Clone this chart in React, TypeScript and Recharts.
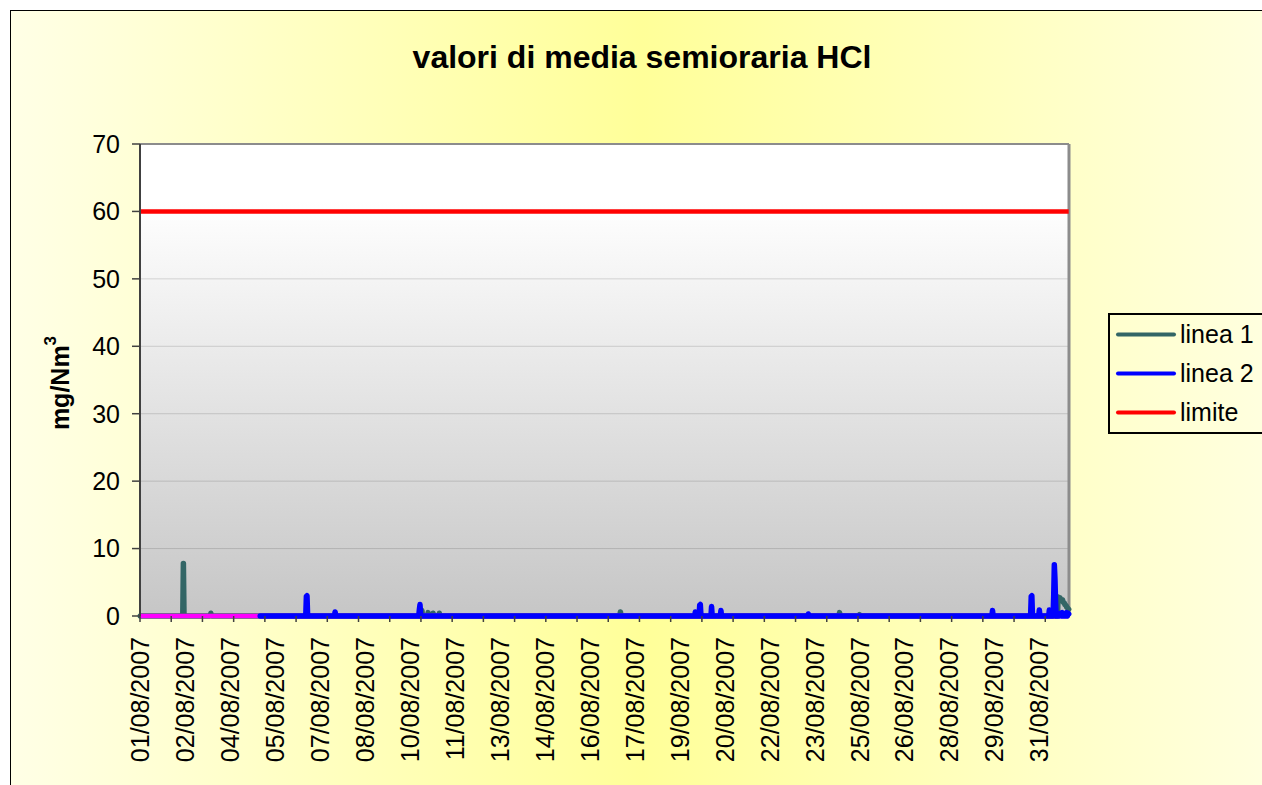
import React from 'react';
import { LineChart, Line, XAxis, YAxis, CartesianGrid, Legend, ReferenceLine } from 'recharts';

// half-hour slots for August 2007 (31 days x 48)
const SLOTS = 1488;
const LABEL_EVERY = 72;
const TICK_EVERY = 50;

const dateLabels = [
  '01/08/2007', '02/08/2007', '04/08/2007', '05/08/2007', '07/08/2007', '08/08/2007',
  '10/08/2007', '11/08/2007', '13/08/2007', '14/08/2007', '16/08/2007', '17/08/2007',
  '19/08/2007', '20/08/2007', '22/08/2007', '23/08/2007', '25/08/2007', '26/08/2007',
  '28/08/2007', '29/08/2007', '31/08/2007',
];

const yTicks = [0, 10, 20, 30, 40, 50, 60, 70];
const legendOrder = ['linea 1', 'linea 2', 'limite'];

// readings above zero, [slot, mg/Nm3]
const linea1Readings: [number, number][] = [
  [69, 7.8], [113, 0.4], [451, 0.8], [461, 0.5], [469, 0.4], [479, 0.4], [769, 0.6],
  [1120, 0.5], [1152, 0.2],
  [1470, 2.8], [1471, 2.7], [1472, 2.6], [1473, 2.7], [1474, 2.5], [1475, 2.4],
  [1476, 2.3], [1477, 2.4], [1478, 2.1], [1479, 2.0], [1480, 1.9], [1481, 1.7],
  [1482, 1.6], [1483, 1.5], [1484, 1.3], [1485, 1.2], [1486, 1.1], [1487, 1.0],
];

const linea2Start = 192; // linea 2 starts on 05/08
const linea2Missing = [1089];
const linea2Readings: [number, number][] = [
  [266, 2.9], [267, 3.0], [312, 0.6], [447, 1.0], [448, 1.7],
  [889, 0.6], [896, 1.6], [897, 1.7], [915, 1.4], [930, 0.8], [1070, 0.3],
  [1365, 0.8], [1427, 2.9], [1428, 3.0], [1440, 0.9], [1456, 0.9],
  [1463, 3.0], [1464, 7.6], [1465, 5.5], [1466, 2.0],
  [1474, 0.4], [1477, 0.5], [1480, 0.3], [1484, 0.5], [1486, 0.4], [1487, 0.3],
];

const linea3Value = 0; // magenta series under linea 2, no legend entry
const limite = 60;

const rows = Array.from({ length: SLOTS }, (_, i) => ({
  slot: i + 0.5,
  linea1: 0 as number,
  linea3: linea3Value,
  linea2: (i < linea2Start ? null : 0) as number | null,
  limite,
}));
linea1Readings.forEach(([s, v]) => { rows[s].linea1 = v; });
linea2Readings.forEach(([s, v]) => { rows[s].linea2 = v; });
linea2Missing.forEach((s) => { rows[s].linea2 = null; });

const markTicks = Array.from({ length: Math.floor((SLOTS - 1) / TICK_EVERY) + 1 }, (_, k) => k * TICK_EVERY);
const labelTicks = dateLabels.map((_, k) => k * LABEL_EVERY + 0.5);
const xTicks = [...markTicks, ...labelTicks].sort((a, b) => a - b);

const FONT = '"Liberation Sans", Arial, sans-serif';

const XTick = (props: any) => {
  const { x, y, payload } = props;
  const v = payload.value;
  if (Number.isInteger(v)) {
    return <line x1={x} x2={x} y1={y} y2={y + 6} stroke="#404040" strokeWidth={1.5} />;
  }
  const label = dateLabels[Math.round((v - 0.5) / LABEL_EVERY)];
  const ty = y + 21;
  return (
    <text x={x} y={ty} transform={`rotate(-90 ${x} ${ty})`} textAnchor="end"
      dominantBaseline="central" fontSize={25} fill="#000" fontFamily={FONT}>
      {label}
    </text>
  );
};

const YTitle = (props: any) => {
  const vb = props.viewBox || { y: 144, height: 472 };
  const cx = 60;
  const cy = vb.y + vb.height / 2 + 3;
  return (
    <text x={cx} y={cy} transform={`rotate(-90 ${cx} ${cy})`} textAnchor="middle"
      dominantBaseline="central" fontSize={25} fontWeight="bold" fill="#000" fontFamily={FONT}>
      mg/Nm<tspan dy={-10} fontSize={17}>3</tspan>
    </text>
  );
};

const renderLegend = (props: any) => {
  const payload = (props.payload || []).filter((p: any) => p.type !== 'none');
  const items = legendOrder
    .map((name) => payload.find((p: any) => p.value === name))
    .filter(Boolean);
  return (
    <div style={{ border: '2px solid #000', width: 170, boxSizing: 'border-box', fontFamily: FONT }}>
      {items.map((p: any) => (
        <div key={p.value} style={{ display: 'flex', alignItems: 'center', height: 39 }}>
          <svg width={70} height={39}>
            <line x1={8} x2={64} y1={19.5} y2={19.5} stroke={p.color} strokeWidth={4} strokeLinecap="round" />
          </svg>
          <span style={{ fontSize: 25, color: '#000' }}>{p.value}</span>
        </div>
      ))}
    </div>
  );
};

export default function App() {
  return (
    <div style={{ position: 'absolute', left: 0, top: 0, width: 1262, height: 785, overflow: 'hidden', background: '#fff', fontFamily: FONT }}>
      <div style={{
        position: 'absolute', left: 10, top: 10, width: 1264, height: 800,
        borderTop: '1px solid #000', borderLeft: '1px solid #000',
        background: 'linear-gradient(to right, #ffffe6 0%, #ffff99 50%, #ffffe0 100%)',
      }} />
      <div style={{
        position: 'absolute', left: 0, top: 41, width: 1284, textAlign: 'center',
        fontSize: 32, lineHeight: '32px', fontWeight: 'bold', color: '#000',
      }}>
        valori di media semioraria HCl
      </div>
      <div style={{ position: 'absolute', left: 0, top: 0 }}>
        <LineChart width={1262} height={785} data={rows} margin={{ top: 144, right: 193, bottom: 0, left: 0 }}>
          <defs>
            <linearGradient id="plotBg" x1="0" y1="0" x2="0" y2="1">
              <stop offset="0" stopColor="#ffffff" />
              <stop offset="0.12" stopColor="#ffffff" />
              <stop offset="1" stopColor="#c6c6c6" />
            </linearGradient>
          </defs>
          <CartesianGrid vertical={false} stroke="#000" strokeOpacity={0.14} fill="url(#plotBg)" fillOpacity={1} />
          <XAxis dataKey="slot" type="number" domain={[0, SLOTS]} ticks={xTicks} interval={0}
            height={169} tick={<XTick />} tickLine={false} tickSize={0} tickMargin={0}
            axisLine={false} />
          <YAxis domain={[0, 70]} ticks={yTicks} interval={0} width={140}
            tick={{ fontSize: 25, fill: '#000', fontFamily: FONT }} tickSize={8} tickMargin={12}
            tickLine={{ stroke: '#404040', strokeWidth: 1.5 }}
            axisLine={{ stroke: '#404040', strokeWidth: 2 }}
            label={<YTitle />} />
          <ReferenceLine y={70} stroke="#8c8c8c" strokeWidth={2} />
          <ReferenceLine x={SLOTS} stroke="#8c8c8c" strokeWidth={3} />
          <Legend layout="horizontal" verticalAlign="middle" align="center"
            wrapperStyle={{ left: 1108, top: 313, width: 170 }} content={renderLegend} />
          <Line name="linea 1" dataKey="linea1" type="linear" stroke="#336666" strokeWidth={5.5}
            strokeLinejoin="round" strokeLinecap="round" dot={false} activeDot={false} isAnimationActive={false} />
          <Line name="linea 3" dataKey="linea3" type="linear" stroke="#ff00ff" strokeWidth={4.5}
            legendType="none" dot={false} activeDot={false} isAnimationActive={false} />
          <Line name="linea 2" dataKey="linea2" type="linear" stroke="#0000ff" strokeWidth={5.5}
            strokeLinejoin="round" strokeLinecap="round" dot={false} activeDot={false} isAnimationActive={false} />
          <Line name="limite" dataKey="limite" type="linear" stroke="#ff0000" strokeWidth={4.5}
            dot={false} activeDot={false} isAnimationActive={false} />
        </LineChart>
      </div>
    </div>
  );
}
